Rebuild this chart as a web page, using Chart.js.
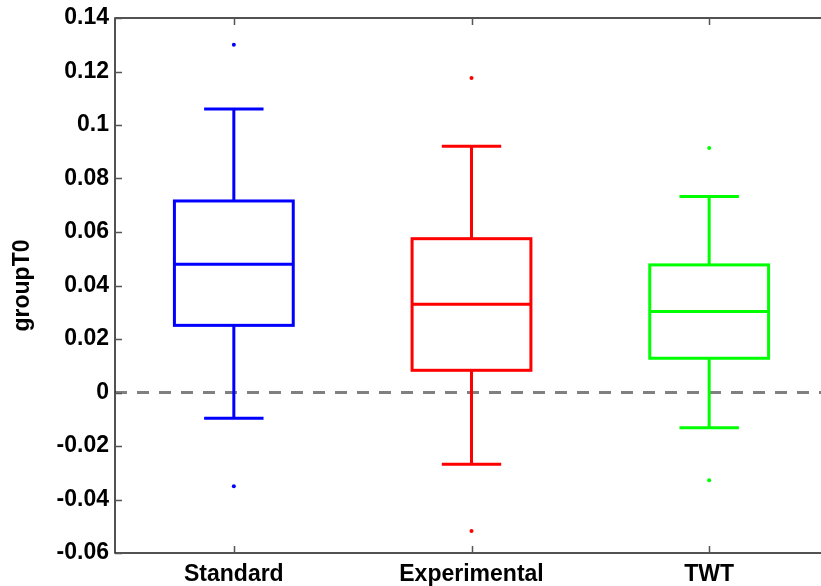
<!DOCTYPE html>
<html>
<head>
<meta charset="utf-8">
<script src="https://cdn.jsdelivr.net/npm/chart.js@4.4.1/dist/chart.umd.min.js"></script>
<style>
  html, body { margin: 0; padding: 0; background: #fff; overflow: hidden; width: 821px; height: 586px; }
  #wrap { position: relative; width: 840px; height: 586px; }
</style>
</head>
<body>
<div id="wrap"><canvas id="c"></canvas></div>
<script>
// Groups and their box-plot statistics
const categories   = ['Standard', 'Experimental', 'TWT'];
const groupColors  = ['#0000ff', '#ff0000', '#00ff00'];
const lowerWhisker = [-0.0096, -0.0268, -0.0132];
const q1           = [ 0.0251,  0.0083,  0.0128];
const median       = [ 0.0479,  0.0330,  0.0303];
const q3           = [ 0.0716,  0.0575,  0.0477];
const upperWhisker = [ 0.1060,  0.0921,  0.0733];
const outliers     = [[0.1300, -0.0350], [0.1176, -0.0518], [0.0914, -0.0328]];
const yTickValues  = [-0.06, -0.04, -0.02, 0, 0.02, 0.04, 0.06, 0.08, 0.10, 0.12, 0.14];
const referenceY   = 0;

const FONT = '"Liberation Sans", Arial, sans-serif';
const BOX_HALF = 0.25;   // half box width, in category units
const CAP_HALF = 0.125;  // half whisker-cap width

// Box, whiskers, median, dashed reference line, axes frame and inward ticks
const boxplotPlugin = {
  id: 'boxplot',
  beforeDatasetsDraw(chart) {
    const { ctx, chartArea: a, scales: { x, y } } = chart;
    ctx.save();

    // dashed reference line
    const y0 = y.getPixelForValue(referenceY);
    ctx.strokeStyle = '#808080';
    ctx.lineWidth = 3;
    ctx.setLineDash([12, 10]);
    ctx.beginPath();
    ctx.moveTo(a.left, y0);
    ctx.lineTo(a.right, y0);
    ctx.stroke();
    ctx.setLineDash([]);

    // boxes
    ctx.lineWidth = 3;
    ctx.lineCap = 'butt';
    ctx.lineJoin = 'miter';
    categories.forEach((_, i) => {
      const c = i + 1;
      const xc = x.getPixelForValue(c);
      const xl = x.getPixelForValue(c - BOX_HALF);
      const xr = x.getPixelForValue(c + BOX_HALF);
      const cl = x.getPixelForValue(c - CAP_HALF);
      const cr = x.getPixelForValue(c + CAP_HALF);
      const yQ1 = y.getPixelForValue(q1[i]);
      const yQ3 = y.getPixelForValue(q3[i]);
      const yMed = y.getPixelForValue(median[i]);
      const yLo = y.getPixelForValue(lowerWhisker[i]);
      const yHi = y.getPixelForValue(upperWhisker[i]);
      ctx.strokeStyle = groupColors[i];
      ctx.beginPath();
      // whiskers
      ctx.moveTo(xc, yQ3); ctx.lineTo(xc, yHi);
      ctx.moveTo(xc, yQ1); ctx.lineTo(xc, yLo);
      // caps
      ctx.moveTo(cl, yHi); ctx.lineTo(cr, yHi);
      ctx.moveTo(cl, yLo); ctx.lineTo(cr, yLo);
      // median
      ctx.moveTo(xl, yMed); ctx.lineTo(xr, yMed);
      ctx.stroke();
      ctx.strokeRect(xl, yQ3, xr - xl, yQ1 - yQ3);
    });
    ctx.restore();
  },
  afterDraw(chart) {
    const { ctx, chartArea: a, scales: { x, y } } = chart;
    ctx.save();
    // frame
    ctx.strokeStyle = '#1a1a1a';
    ctx.lineWidth = 1.5;
    ctx.strokeRect(a.left, a.top, a.right - a.left, a.bottom - a.top);
    // inward ticks
    const TL = 7;
    ctx.strokeStyle = '#555555';
    ctx.lineWidth = 1.5;
    ctx.beginPath();
    yTickValues.forEach(v => {
      const py = Math.round(y.getPixelForValue(v)) + 0.5;
      ctx.moveTo(a.left, py); ctx.lineTo(a.left + TL, py);
      ctx.moveTo(a.right, py); ctx.lineTo(a.right - TL, py);
    });
    categories.forEach((_, i) => {
      const px = Math.round(x.getPixelForValue(i + 1)) + 0.5;
      ctx.moveTo(px, a.bottom); ctx.lineTo(px, a.bottom - TL);
      ctx.moveTo(px, a.top); ctx.lineTo(px, a.top + TL);
    });
    ctx.stroke();
    ctx.restore();
  }
};

const datasets = categories.map((name, i) => ({
  type: 'scatter',
  label: name,
  data: outliers[i].map(v => ({ x: i + 1, y: v })),
  pointRadius: 2,
  pointBorderWidth: 0,
  pointBackgroundColor: groupColors[i],
  pointBorderColor: groupColors[i]
}));

new Chart(document.getElementById('c'), {
  type: 'scatter',
  data: { datasets },
  plugins: [boxplotPlugin],
  options: {
    responsive: true,
    maintainAspectRatio: false,
    devicePixelRatio: 1,
    animation: false,
    layout: { padding: { top: 18, right: 12, left: 0, bottom: 0 } },
    plugins: { legend: { display: false }, tooltip: { enabled: false } },
    scales: {
      x: {
        type: 'linear',
        min: 0.5,
        max: 3.5,
        grid: { display: false, drawTicks: false },
        border: { display: false },
        afterBuildTicks: s => { s.ticks = categories.map((_, i) => ({ value: i + 1 })); },
        afterFit: s => { s.height = 33; },
        ticks: {
          padding: 10,
          color: '#000',
          font: { family: FONT, size: 23, weight: 'bold', lineHeight: 1 },
          callback: v => categories[v - 1]
        }
      },
      y: {
        type: 'linear',
        min: -0.06,
        max: 0.14,
        grid: { display: false, drawTicks: false },
        border: { display: false },
        afterBuildTicks: s => { s.ticks = yTickValues.map(v => ({ value: v })); },
        afterFit: s => { s.width = 115; },
        ticks: {
          padding: 6,
          color: '#000',
          font: { family: FONT, size: 23, weight: 'bold', lineHeight: 1 },
          callback: v => String(parseFloat(Number(v).toFixed(2)))
        },
        title: {
          display: true,
          text: 'groupT0',
          color: '#000',
          padding: { top: 9, bottom: 0 },
          font: { family: FONT, size: 23, weight: 'bold' }
        }
      }
    }
  }
});
</script>
</body>
</html>
